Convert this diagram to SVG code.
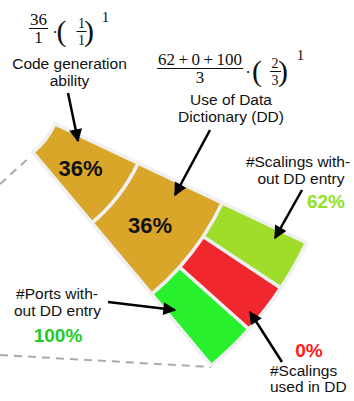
<svg xmlns="http://www.w3.org/2000/svg" width="354" height="401" viewBox="0 0 354 401">
<style>
.seg{stroke:#f0f0f0;stroke-width:3.5;stroke-linejoin:miter}
.lbl{font-family:"Liberation Sans",Arial,sans-serif;font-size:15.5px;fill:#111;text-anchor:middle}
.lft{text-anchor:start}
.pct{font-family:"Liberation Sans",Arial,sans-serif;font-weight:bold;text-anchor:middle}
.m{font-family:"Liberation Serif","Times New Roman",serif;fill:#111;text-anchor:middle}
.bar{stroke:#111;stroke-width:1}
.arr{stroke:#000;stroke-width:2.5;fill:none;marker-end:url(#ah)}
.dash{stroke:#aaa;stroke-width:2;stroke-dasharray:8 6;fill:none}
</style>
<defs>
<marker id="ah" viewBox="0 0 10 10" refX="9" refY="5" markerWidth="15" markerHeight="13" markerUnits="userSpaceOnUse" orient="auto">
<path d="M0,0 L10,5 L0,10 Z" fill="#000"/>
</marker>
</defs>
<rect width="354" height="401" fill="#fff"/>
<g id="zoom-lines">
<line class="dash" x1="0" y1="184" x2="31" y2="156"/>
<line class="dash" x1="0" y1="355" x2="211" y2="367"/>
</g>
<g id="code-generation">
<path class="seg" fill="#daa62a" d="M54.94,123.90 L138.12,163.20 A176,176 0 0 1 92.01,222.92 L32.94,152.39 A84,84 0 0 0 54.94,123.90 Z"/>
<text class="pct" x="80.5" y="176" font-size="22" fill="#111">36%</text>
</g>
<g id="use-dd">
<path class="seg" fill="#daa62a" d="M138.12,163.20 L222.20,202.94 A269,269 0 0 1 151.72,294.22 L92.01,222.92 A176,176 0 0 0 138.12,163.20 Z"/>
<text class="pct" x="150" y="233" font-size="22" fill="#111">36%</text>
</g>
<g id="scalings-without">
<path class="seg" fill="#a0dc2a" d="M222.20,202.94 L306.28,242.68 A362,362 0 0 1 280.69,288.04 L203.18,236.65 A269,269 0 0 0 222.20,202.94 Z"/>
</g>
<g id="scalings-used">
<path class="seg" fill="#f0282d" d="M203.18,236.65 L280.69,288.04 A362,362 0 0 1 248.87,329.27 L179.52,267.29 A269,269 0 0 0 203.18,236.65 Z"/>
</g>
<g id="ports-without">
<path class="seg" fill="#28f02d" d="M179.52,267.29 L248.87,329.27 A362,362 0 0 1 211.44,365.51 L151.72,294.22 A269,269 0 0 0 179.52,267.29 Z"/>
</g>
<g id="formula-1">
<text class="m" x="38.5" y="25" font-size="17">36</text>
<line class="bar" x1="29" y1="28.5" x2="48" y2="28.5"/>
<text class="m" x="38.5" y="43" font-size="17">1</text>
<text class="m" x="55" y="38" font-size="17">·</text>
<text class="m" x="61.5" y="40.5" font-size="30" text-anchor="start">(</text>
<text class="m" x="81.5" y="28" font-size="14">1</text>
<line class="bar" x1="76.5" y1="31.5" x2="86.5" y2="31.5"/>
<text class="m" x="81.5" y="45" font-size="14">1</text>
<text class="m" x="89" y="40.5" font-size="30" text-anchor="start">)</text>
<text class="m" x="105.5" y="22" font-size="15">1</text>
</g>
<g id="formula-2">
<text class="m" x="166.5" y="65" font-size="17">62</text>
<text class="m" x="183.2" y="65" font-size="17">+</text>
<text class="m" x="195.7" y="65" font-size="17">0</text>
<text class="m" x="208.2" y="65" font-size="17">+</text>
<text class="m" x="229.2" y="65" font-size="17">100</text>
<line class="bar" x1="157" y1="68.5" x2="243" y2="68.5"/>
<text class="m" x="200" y="83" font-size="17">3</text>
<text class="m" x="248" y="78" font-size="17">·</text>
<text class="m" x="257" y="80.5" font-size="30" text-anchor="start">(</text>
<text class="m" x="275" y="68" font-size="14">2</text>
<line class="bar" x1="270" y1="71.5" x2="281" y2="71.5"/>
<text class="m" x="275" y="85" font-size="14">3</text>
<text class="m" x="283" y="80.5" font-size="30" text-anchor="start">)</text>
<text class="m" x="300.5" y="60" font-size="15">1</text>
</g>
<g id="labels">
<text class="lbl" x="69.5" y="69">Code generation</text>
<text class="lbl" x="69.5" y="86">ability</text>
<text class="lbl" x="231" y="104.5">Use of Data</text>
<text class="lbl" x="231" y="121.5">Dictionary (DD)</text>
<text class="lbl" x="298" y="166.5">#Scalings with-</text>
<text class="lbl" x="301" y="183.5">out DD entry</text>
<text class="pct" x="326" y="208" font-size="19" fill="#8ee228">62%</text>
<text class="lbl" x="57" y="299">#Ports with-</text>
<text class="lbl" x="57.5" y="316">out DD entry</text>
<text class="pct" x="58" y="342" font-size="19" fill="#22cc22">100%</text>
<text class="pct" x="309" y="357" font-size="19" fill="#ff1a1a">0%</text>
<text class="lbl lft" x="270" y="376">#Scalings</text>
<text class="lbl lft" x="270" y="391.5">used in DD</text>
</g>
<g id="connectors">
<line class="arr" x1="68" y1="93" x2="78" y2="141"/>
<line class="arr" x1="210" y1="130" x2="175" y2="195"/>
<line class="arr" x1="302" y1="190" x2="275" y2="238"/>
<line class="arr" x1="108" y1="302" x2="175" y2="310"/>
<line class="arr" x1="282" y1="362" x2="250" y2="312"/>
</g>
</svg>
